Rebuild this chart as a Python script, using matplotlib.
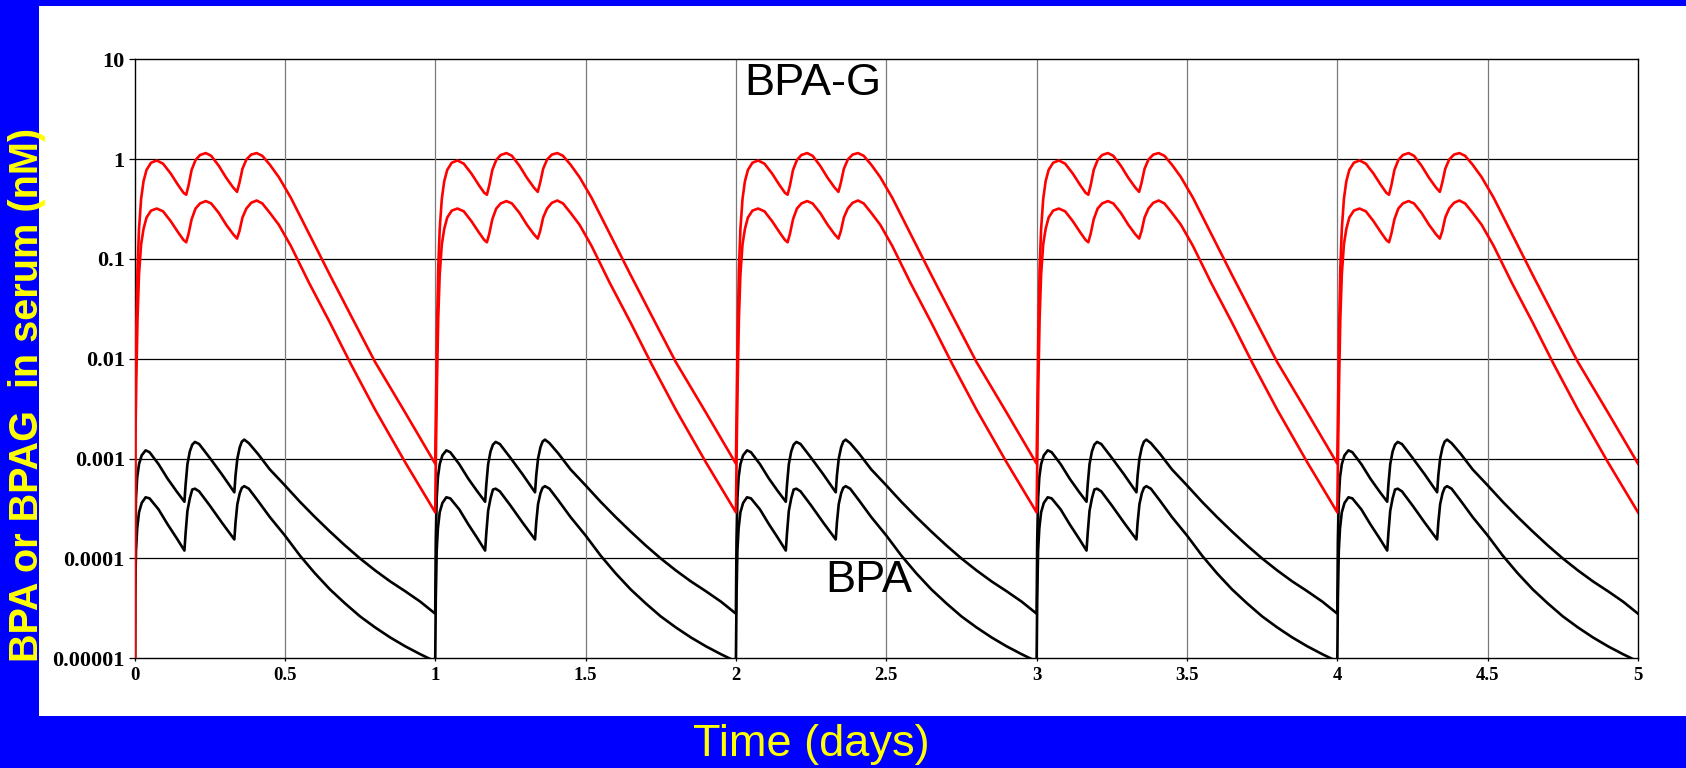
import matplotlib
matplotlib.use("Agg")
import matplotlib.pyplot as plt
from matplotlib.patches import Rectangle
from matplotlib.ticker import NullLocator

N_DAYS = 5

# One day of the serum profile (fraction of day -> nM); each day repeats it,
# starting from where the previous day ended.
DAY_T_BPAG = [0.003, 0.006, 0.010, 0.015, 0.022, 0.030, 0.040, 0.055, 0.074, 0.095,
              0.120, 0.145, 0.163, 0.172, 0.180, 0.190, 0.203, 0.218, 0.237, 0.255,
              0.280, 0.305, 0.328, 0.341, 0.349, 0.359, 0.372, 0.388, 0.406, 0.425,
              0.450, 0.480, 0.520, 0.580, 0.650, 0.720, 0.800, 0.900, 1.000]
BPAG_HIGH = [0.004, 0.02, 0.08, 0.2, 0.4, 0.6, 0.78, 0.92, 0.97, 0.9,
             0.72, 0.55, 0.46, 0.44, 0.55, 0.78, 0.98, 1.1, 1.15, 1.08,
             0.86, 0.65, 0.52, 0.47, 0.58, 0.8, 0.99, 1.11, 1.15, 1.08,
             0.88, 0.66, 0.41, 0.18, 0.069, 0.027, 0.0093, 0.0029, 0.00089]
BPAG_LOW = [0.0015, 0.006, 0.025, 0.07, 0.14, 0.2, 0.26, 0.305, 0.32, 0.3,
            0.24, 0.185, 0.155, 0.147, 0.18, 0.25, 0.32, 0.36, 0.38, 0.36,
            0.29, 0.22, 0.177, 0.16, 0.19, 0.26, 0.32, 0.365, 0.385, 0.36,
            0.29, 0.22, 0.135, 0.058, 0.023, 0.0088, 0.0031, 0.00092, 0.00029]

DAY_T_BPA = [0.002, 0.005, 0.009, 0.015, 0.024, 0.037, 0.050, 0.080, 0.110, 0.140,
             0.166, 0.170, 0.176, 0.184, 0.192, 0.201, 0.215, 0.250, 0.290, 0.332,
             0.336, 0.342, 0.350, 0.357, 0.365, 0.380, 0.410, 0.450, 0.500, 0.550,
             0.600, 0.650, 0.700, 0.750, 0.800, 0.850, 0.900, 0.950, 1.000]
BPA_HIGH = [0.00015, 0.0004, 0.00065, 0.00088, 0.00108, 0.00121, 0.00116, 0.00088, 0.00063, 0.00047,
            0.00037, 0.00055, 0.00088, 0.00118, 0.00138, 0.00147, 0.0014, 0.00102, 0.0007, 0.00046,
            0.00068, 0.001, 0.0013, 0.00148, 0.00155, 0.00143, 0.00112, 0.00078, 0.00054, 0.00037,
            0.00026, 0.000186, 0.000135, 0.0001, 0.000076, 0.000059, 0.000047, 0.000037, 0.000028]
BPA_LOW = [0.00004, 0.00012, 0.0002, 0.00029, 0.00036, 0.00041, 0.0004, 0.00031, 0.00022, 0.00016,
           0.00012, 0.00018, 0.0003, 0.0004, 0.00049, 0.0005, 0.00047, 0.00034, 0.00023, 0.000155,
           0.00023, 0.00035, 0.00045, 0.00051, 0.00053, 0.0005, 0.00038, 0.00026, 0.00017, 0.000107,
           0.000071, 0.000049, 0.0000355, 0.0000263, 0.0000204, 0.0000162, 0.0000132, 0.000011, 0.0000093]

START_LEVEL = 1e-7  # nothing in serum before the first dose

X_TICKS = [0, 0.5, 1, 1.5, 2, 2.5, 3, 3.5, 4, 4.5, 5]
X_TICK_LABELS = ["0", "0.5", "1", "1.5", "2", "2.5", "3", "3.5", "4", "4.5", "5"]
Y_TICKS = [10, 1, 0.1, 0.01, 0.001, 0.0001, 0.00001]
Y_TICK_LABELS = ["10", "1", "0.1", "0.01", "0.001", "0.0001", "0.00001"]


def tile_days(day_t, day_v, start):
    t = [0.0]
    v = [start]
    for d in range(N_DAYS):
        t += [d + x for x in day_t]
        v += list(day_v)
    return t, v


BLUE = "#0000FF"
YELLOW = "#FFFF00"

fig = plt.figure(figsize=(16.86, 7.68), dpi=100, facecolor=BLUE)
panel = Rectangle((39 / 1686, 1 - 716 / 768), 1 - 39 / 1686, (716 - 5.5) / 768,
                  transform=fig.transFigure, facecolor="white",
                  edgecolor="none", zorder=-10)
fig.patches.append(panel)

ax = fig.add_axes([134.5 / 1686, 1 - 658.3 / 768, (1638 - 134.5) / 1686, (658.3 - 59.3) / 768])
ax.set_zorder(1)
ax.set_facecolor("white")
ax.set_yscale("log")
ax.set_xlim(0, 5)
ax.set_ylim(1e-5, 10)

for day_v in (BPA_HIGH, BPA_LOW):
    t, v = tile_days(DAY_T_BPA, day_v, START_LEVEL)
    ax.plot(t, v, color="black", linewidth=1.9, zorder=3)
for day_v in (BPAG_HIGH, BPAG_LOW):
    t, v = tile_days(DAY_T_BPAG, day_v, START_LEVEL)
    ax.plot(t, v, color="#FF0000", linewidth=1.9, zorder=4)

ax.set_xticks(X_TICKS, X_TICK_LABELS)
ax.set_yticks(Y_TICKS, Y_TICK_LABELS)
ax.yaxis.set_minor_locator(NullLocator())

for y in Y_TICKS[1:-1]:
    ax.axhline(y, color="black", linewidth=0.9, zorder=1)
for x in X_TICKS[1:-1]:
    ax.axvline(x, color="#7a7a7a", linewidth=0.9, zorder=1)

for side in ("left", "right", "top", "bottom"):
    ax.spines[side].set_color("black")
    ax.spines[side].set_linewidth(1.0)

ax.tick_params(axis="y", direction="out", length=4, width=0.9, pad=3,
               labelsize=16, colors="black")
ax.tick_params(axis="x", direction="out", length=2.5, width=0.9, pad=4,
               labelsize=13.5, colors="black")
for lab in ax.get_xticklabels() + ax.get_yticklabels():
    lab.set_fontfamily("Liberation Serif")
    lab.set_fontweight("bold")

ax.text(2.257, 4.38, "BPA-G", fontsize=32.5, family="Liberation Sans",
        ha="center", va="baseline", color="black", zorder=5)
ax.text(2.443, 4.57e-5, "BPA", fontsize=32.5, family="Liberation Sans",
        ha="center", va="baseline", color="black", zorder=5)

fig.text(811 / 1686, 1 - 756 / 768, "Time (days)", fontsize=32.5,
         family="Liberation Sans", color=YELLOW, ha="center", va="baseline")
fig.text(27 / 1686, 1 - 395 / 768, "BPA or BPAG  in serum (nM)", fontsize=28.5,
         family="Liberation Sans", fontweight="bold", color=YELLOW,
         rotation=90, ha="center", va="center", zorder=5)

fig.savefig("out.png", dpi=100, facecolor=BLUE)
